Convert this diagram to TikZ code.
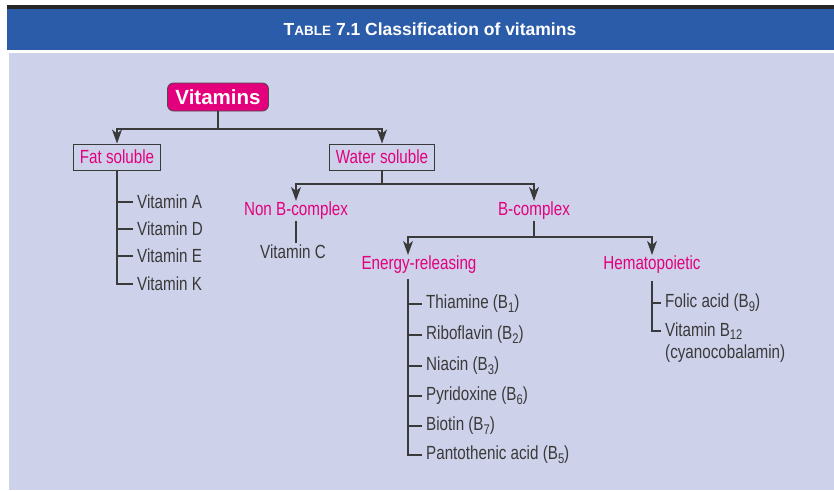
\documentclass[tikz,border=0pt]{standalone}
\usepackage{fontspec}
\setmainfont{Liberation Sans}[FakeStretch=0.8]
\newfontfamily\headfont{Liberation Sans}
\usetikzlibrary{positioning,arrows.meta}

\definecolor{bandblue}{HTML}{2B5CA9}
\definecolor{panel}{HTML}{CDD1EA}
\definecolor{vitpink}{HTML}{E4007C}
\definecolor{ink}{HTML}{3A3A3A}

\tikzset{
  head/.style={fill=vitpink, draw=black!70, line width=0.8pt, rounded corners=6pt, text=white,
    font=\headfont\fontsize{20.5}{22}\selectfont\bfseries, minimum width=101pt, minimum height=28pt, inner sep=0pt},
  group/.style={draw=ink, line width=1pt, text=vitpink, font=\fontsize{19}{22}\selectfont,
    minimum height=26pt, inner xsep=6pt, inner ysep=0pt},
  sub/.style={text=vitpink, font=\fontsize{19}{22}\selectfont, inner sep=1pt},
  item/.style={text=ink, font=\fontsize{19}{22}\selectfont, anchor=west, inner xsep=4pt, inner ysep=2pt},
  link/.style={draw=ink, line width=1.2pt},
  downarrow/.style={-{Stealth[length=14pt,width=10pt,inset=4pt]}},
}
\newcommand{\sub}[1]{\raisebox{-0.35ex}{\fontsize{14}{14}\selectfont#1}}

\begin{document}
\begin{tikzpicture}[x=1pt,y=-1pt]
  \useasboundingbox (0,0) rectangle (834,490);
  \fill[white] (0,0) rectangle (834,490);
  % Header band and panel
  \fill[black!85] (7,5) rectangle (834,9);
  \fill[bandblue] (7,9) rectangle (834,50);
  \fill[panel] (9,53) rectangle (834,490);
  \node[text=white, font=\headfont\fontsize{17.5}{20}\selectfont\bfseries] (title) at (430,29)
    {T{\fontsize{13.5}{14}\selectfont ABLE} 7.1 Classification of vitamins};

  % Top level
  \node[head] (vit) at (218,97) {Vitamins};
  \node[group] (fat) at (117,157) {Fat soluble};
  \node[group] (water) at (382,157) {Water soluble};
  \coordinate (vit-bus) at (218,129);
  \draw[link] (vit) -- (vit-bus);
  \draw[link,downarrow] (vit-bus) -| (fat);
  \draw[link,downarrow] (vit-bus) -| (water);

  % Fat soluble vitamins
  \node[item] (vita) at (133,202) {Vitamin A};
  \node[item] (vitd) at (133,229) {Vitamin D};
  \node[item] (vite) at (133,256) {Vitamin E};
  \node[item] (vitk) at (133,284) {Vitamin K};
  \draw[link] (fat) |- (vitk);
  \foreach \v in {vita,vitd,vite}
    \draw[link] (fat.south |- \v.west) -- (\v.west);

  % Water soluble vitamins
  \node[sub] (nonb) at (296,211) {Non B-complex};
  \node[sub] (bcx) at (534,211) {B-complex};
  \coordinate (water-bus) at (382,184);
  \draw[link] (water) -- (water-bus);
  \draw[link,downarrow] (water-bus) -| (nonb);
  \draw[link,downarrow] (water-bus) -| (bcx);
  \node[item, anchor=center] (vitc) at (293,252) {Vitamin C};
  \draw[link] (nonb.south) -- (nonb.south |- vitc.north);

  % B-complex
  \node[sub] (energy) at (419,265) {Energy-releasing};
  \node[sub] (hema) at (652,265) {Hematopoietic};
  \coordinate (bcx-bus) at (534,237);
  \draw[link] (bcx) -- (bcx-bus);
  \draw[link,downarrow] (bcx-bus) -| ([xshift=-11pt]energy.north);
  \draw[link,downarrow] (bcx-bus) -| (hema);

  % Energy-releasing
  \node[item] (thia) at (422,304) {Thiamine (B\sub{1})};
  \node[item] (ribo) at (422,335) {Riboflavin (B\sub{2})};
  \node[item] (niac) at (422,366) {Niacin (B\sub{3})};
  \node[item] (pyri) at (422,396) {Pyridoxine (B\sub{6})};
  \node[item] (biot) at (422,426) {Biotin (B\sub{7})};
  \node[item] (pant) at (422,455) {Pantothenic acid (B\sub{5})};
  \draw[link] ([xshift=-11pt,yshift=-4pt]energy.south) |- (pant.west);
  \foreach \v in {thia,ribo,niac,pyri,biot}
    \draw[link] (pant.west -| 408,0) |- (\v.west);

  % Hematopoietic
  \node[item] (folic) at (661,303) {Folic acid (B\sub{9})};
  \node[item] (b12) at (661,331) {Vitamin B\sub{12}};
  \node[item] (cyano) at (661,354) {(cyanocobalamin)};
  \draw[link] ([yshift=-6pt]hema.south) |- (b12.west);
  \draw[link] (hema.south |- folic.west) -- (folic.west);
\end{tikzpicture}
\end{document}
